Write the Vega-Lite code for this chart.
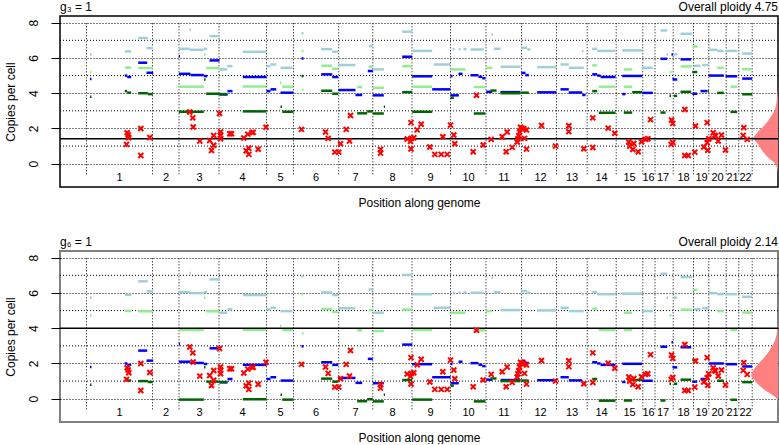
{
  "$schema": "https://vega.github.io/schema/vega-lite/v6.json",
  "background": "white",
  "padding": {"left": 3, "right": 0, "top": 0, "bottom": 0},
  "config": {"font": "Liberation Sans", "view": {"stroke": "black"}},
  "spacing": 26,
  "datasets": {
    "edges": [
      {"pos": 26}, {"pos": 92}, {"pos": 118.5}, {"pos": 158.5}, {"pos": 206}, {"pos": 233}, {"pos": 278.2}, {"pos": 312.3},
      {"pos": 351.5}, {"pos": 390}, {"pos": 425.5}, {"pos": 461}, {"pos": 496}, {"pos": 526.7}, {"pos": 555.7}, {"pos": 582.3},
      {"pos": 594.5}, {"pos": 612.7}, {"pos": 633}, {"pos": 648.3}, {"pos": 665.7}, {"pos": 678.3}, {"pos": 691.7}
    ],
    "oddGrid": [{"g": 1}, {"g": 3}, {"g": 5}, {"g": 7}],
    "chrom": [
      {"chr": "1", "mid": 59}, {"chr": "2", "mid": 105.5}, {"chr": "3", "mid": 139}, {"chr": "4", "mid": 182},
      {"chr": "5", "mid": 220}, {"chr": "6", "mid": 255.5}, {"chr": "7", "mid": 295}, {"chr": "8", "mid": 332},
      {"chr": "9", "mid": 370}, {"chr": "10", "mid": 408}, {"chr": "11", "mid": 443.5}, {"chr": "12", "mid": 480},
      {"chr": "13", "mid": 511.5}, {"chr": "14", "mid": 541}, {"chr": "15", "mid": 569}, {"chr": "16", "mid": 588},
      {"chr": "17", "mid": 602.5}, {"chr": "18", "mid": 623}, {"chr": "19", "mid": 641}, {"chr": "20", "mid": 657},
      {"chr": "21", "mid": 672}, {"chr": "22", "mid": 685}
    ],
    "cross": [
      {"pos": 66.7, "cn": 1.76}, {"pos": 67.7, "cn": 1.63}, {"pos": 68.3, "cn": 1.47}, {"pos": 66, "cn": 1.1}, {"pos": 80.3, "cn": 2.0}, {"pos": 80.3, "cn": 0.47}, {"pos": 89.3, "cn": 1.49},
      {"pos": 129.3, "cn": 2.93}, {"pos": 132.3, "cn": 2.6}, {"pos": 132.7, "cn": 2.08}, {"pos": 139.3, "cn": 1.28}, {"pos": 149.2, "cn": 1.32}, {"pos": 153.2, "cn": 1.6}, {"pos": 153.2, "cn": 1.05}, {"pos": 151, "cn": 0.75},
      {"pos": 159, "cn": 2.85}, {"pos": 160, "cn": 1.8}, {"pos": 160, "cn": 1.63}, {"pos": 160, "cn": 1.42}, {"pos": 169.3, "cn": 1.7}, {"pos": 171, "cn": 1.7},
      {"pos": 183.3, "cn": 1.46}, {"pos": 187.3, "cn": 1.68}, {"pos": 191.7, "cn": 1.78}, {"pos": 192.7, "cn": 1.78}, {"pos": 188.3, "cn": 0.88}, {"pos": 185.7, "cn": 0.74}, {"pos": 188.3, "cn": 0.53}, {"pos": 197.7, "cn": 0.82}, {"pos": 205.5, "cn": 2.07},
      {"pos": 241, "cn": 1.95}, {"pos": 265, "cn": 1.8}, {"pos": 267.7, "cn": 1.44}, {"pos": 274.3, "cn": 0.66}, {"pos": 278.3, "cn": 0.66}, {"pos": 280, "cn": 1.13},
      {"pos": 285.7, "cn": 1.95}, {"pos": 290, "cn": 2.74}, {"pos": 289, "cn": 1.29}, {"pos": 320, "cn": 0.81}, {"pos": 320, "cn": 0.6},
      {"pos": 346.7, "cn": 1.4}, {"pos": 350.5, "cn": 2.33}, {"pos": 351, "cn": 1.44}, {"pos": 350, "cn": 1.27}, {"pos": 350.5, "cn": 0.84}, {"pos": 353.3, "cn": 1.47}, {"pos": 356.7, "cn": 1.92}, {"pos": 360.7, "cn": 2.24},
      {"pos": 369.3, "cn": 0.95}, {"pos": 374.3, "cn": 0.53}, {"pos": 380.7, "cn": 0.53}, {"pos": 386.7, "cn": 0.53}, {"pos": 382.3, "cn": 1.53},
      {"pos": 390, "cn": 2.19}, {"pos": 393.3, "cn": 1.63}, {"pos": 394.3, "cn": 1.13}, {"pos": 412.7, "cn": 0.68}, {"pos": 416, "cn": 3.88}, {"pos": 422.7, "cn": 1.06},
      {"pos": 430.7, "cn": 1.38}, {"pos": 441.7, "cn": 1.53}, {"pos": 446.7, "cn": 1.8}, {"pos": 445.7, "cn": 0.68}, {"pos": 451.7, "cn": 0.93}, {"pos": 456.7, "cn": 1.23}, {"pos": 458.3, "cn": 1.57}, {"pos": 459, "cn": 1.8},
      {"pos": 461.7, "cn": 2.0}, {"pos": 464, "cn": 1.44}, {"pos": 466, "cn": 1.91}, {"pos": 466, "cn": 0.83}, {"pos": 457.3, "cn": 1.41}, {"pos": 460, "cn": 2.07}, {"pos": 463.3, "cn": 1.98},
      {"pos": 481, "cn": 2.17}, {"pos": 495, "cn": 1.0}, {"pos": 508.3, "cn": 2.15}, {"pos": 508.3, "cn": 1.82}, {"pos": 523.3, "cn": 0.85},
      {"pos": 532.3, "cn": 2.6}, {"pos": 532.3, "cn": 0.92}, {"pos": 547.7, "cn": 2.02}, {"pos": 554.3, "cn": 1.73},
      {"pos": 568.3, "cn": 1.23}, {"pos": 569.3, "cn": 1.0}, {"pos": 572.3, "cn": 0.81}, {"pos": 573.3, "cn": 1.15}, {"pos": 577.7, "cn": 0.68}, {"pos": 581, "cn": 1.25},
      {"pos": 585, "cn": 1.38}, {"pos": 587.3, "cn": 1.42}, {"pos": 590, "cn": 2.5},
      {"pos": 611, "cn": 2.48}, {"pos": 612.3, "cn": 2.29}, {"pos": 610.7, "cn": 1.1}, {"pos": 612.3, "cn": 1.2},
      {"pos": 624.3, "cn": 3.08}, {"pos": 624.3, "cn": 0.47}, {"pos": 627.7, "cn": 0.47},
      {"pos": 634.3, "cn": 0.66}, {"pos": 635, "cn": 2.14}, {"pos": 646.7, "cn": 2.33}, {"pos": 643.3, "cn": 0.95}, {"pos": 646.7, "cn": 1.19}, {"pos": 647.3, "cn": 0.76}, {"pos": 648.3, "cn": 1.42},
      {"pos": 652.7, "cn": 1.76}, {"pos": 654, "cn": 1.61}, {"pos": 657.7, "cn": 1.29}, {"pos": 661, "cn": 1.63}, {"pos": 665, "cn": 0.78}, {"pos": 655, "cn": 1.57},
      {"pos": 683.3, "cn": 2.05}, {"pos": 682.7, "cn": 1.61}, {"pos": 686.7, "cn": 1.38}
    ],
    "densTop": [
      {"cn": 4.2, "edge": 717.5}, {"cn": 4.0, "edge": 717}, {"cn": 3.5, "edge": 716}, {"cn": 3.0, "edge": 714}, {"cn": 2.6, "edge": 709.5},
      {"cn": 2.24, "edge": 704.8}, {"cn": 1.86, "edge": 698.1}, {"cn": 1.6, "edge": 694.5}, {"cn": 1.48, "edge": 693.1}, {"cn": 1.29, "edge": 694.8},
      {"cn": 1.1, "edge": 697.5}, {"cn": 0.91, "edge": 699.8}, {"cn": 0.63, "edge": 703.1}, {"cn": 0.34, "edge": 707.8}, {"cn": 0.06, "edge": 713.8},
      {"cn": -0.23, "edge": 716.5}, {"cn": -0.5, "edge": 717.5}
    ],
    "densBot": [
      {"cn": 4.3, "edge": 717.5}, {"cn": 4.03, "edge": 717}, {"cn": 3.27, "edge": 714.2}, {"cn": 2.7, "edge": 708.5}, {"cn": 2.33, "edge": 703.5},
      {"cn": 1.95, "edge": 697.5}, {"cn": 1.57, "edge": 692.5}, {"cn": 1.38, "edge": 690.8}, {"cn": 1.1, "edge": 693.2}, {"cn": 0.82, "edge": 697.5},
      {"cn": 0.53, "edge": 703.5}, {"cn": 0.34, "edge": 708.5}, {"cn": 0.15, "edge": 713.5}, {"cn": -0.03, "edge": 716.5}, {"cn": -0.3, "edge": 717.5}
    ],
    "segTop": [
      {"x0": 29.5, "x1": 31, "cn": 3.8, "kind": "dg"}, {"x0": 29.5, "x1": 31, "cn": 5.2, "kind": "lg"}, {"x0": 29.5, "x1": 31, "cn": 4.8, "kind": "b"}, {"x0": 29.5, "x1": 31, "cn": 6.2, "kind": "lb"},
      {"x0": 64.3, "x1": 70.7, "cn": 6.37, "kind": "lb"}, {"x0": 77.7, "x1": 87.3, "cn": 7.13, "kind": "lb"}, {"x0": 86, "x1": 92.7, "cn": 6.56, "kind": "lb"},
      {"x0": 64.3, "x1": 70.7, "cn": 5.45, "kind": "lg"}, {"x0": 77.7, "x1": 92.3, "cn": 5.43, "kind": "lg"},
      {"x0": 64.3, "x1": 66.7, "cn": 5.0, "kind": "b"}, {"x0": 66.7, "x1": 70.7, "cn": 4.92, "kind": "b"}, {"x0": 77.7, "x1": 86.7, "cn": 5.73, "kind": "b"}, {"x0": 86, "x1": 92.7, "cn": 5.16, "kind": "b"},
      {"x0": 64.3, "x1": 66.7, "cn": 4.12, "kind": "dg"}, {"x0": 66.7, "x1": 70.7, "cn": 4.03, "kind": "dg"}, {"x0": 77.7, "x1": 87.3, "cn": 4.0, "kind": "dg"}, {"x0": 87.3, "x1": 92.3, "cn": 3.95, "kind": "dg"},
      {"x0": 118.3, "x1": 129.3, "cn": 6.52, "kind": "lb"}, {"x0": 129.3, "x1": 143.3, "cn": 6.46, "kind": "lb"}, {"x0": 143.3, "x1": 146.7, "cn": 6.52, "kind": "lb"}, {"x0": 149, "x1": 159, "cn": 7.24, "kind": "lb"}, {"x0": 129, "x1": 130.5, "cn": 7.6, "kind": "lb"},
      {"x0": 118.3, "x1": 143.3, "cn": 4.37, "kind": "lg"}, {"x0": 145.7, "x1": 159, "cn": 5.43, "kind": "lg"},
      {"x0": 118.3, "x1": 130, "cn": 5.1, "kind": "b"}, {"x0": 130, "x1": 143.3, "cn": 5.03, "kind": "b"}, {"x0": 143.3, "x1": 146.7, "cn": 4.97, "kind": "b"}, {"x0": 149, "x1": 159, "cn": 5.86, "kind": "b"}, {"x0": 118.3, "x1": 119.5, "cn": 6.1, "kind": "b"},
      {"x0": 118.3, "x1": 143.3, "cn": 2.95, "kind": "dg"}, {"x0": 145.7, "x1": 159, "cn": 3.97, "kind": "dg"}, {"x0": 143.5, "x1": 145, "cn": 4.78, "kind": "dg"}, {"x0": 143.5, "x1": 145, "cn": 6.2, "kind": "lg"},
      {"x0": 159, "x1": 167, "cn": 3.93, "kind": "b"}, {"x0": 167, "x1": 172, "cn": 4.12, "kind": "b"}, {"x0": 159, "x1": 167, "cn": 3.95, "kind": "dg"}, {"x0": 159, "x1": 166.7, "cn": 5.35, "kind": "lb"}, {"x0": 166.7, "x1": 172, "cn": 5.54, "kind": "lb"},
      {"x0": 182.3, "x1": 206, "cn": 6.35, "kind": "lb"}, {"x0": 182.3, "x1": 206, "cn": 4.38, "kind": "lg"}, {"x0": 182.3, "x1": 206, "cn": 4.92, "kind": "b"}, {"x0": 182.3, "x1": 206, "cn": 2.97, "kind": "dg"},
      {"x0": 206, "x1": 210, "cn": 5.54, "kind": "lb"}, {"x0": 210, "x1": 215.7, "cn": 5.63, "kind": "lb"}, {"x0": 206, "x1": 210, "cn": 4.12, "kind": "b"}, {"x0": 210, "x1": 215.7, "cn": 4.22, "kind": "b"},
      {"x0": 220, "x1": 232, "cn": 5.44, "kind": "lb"}, {"x0": 221.7, "x1": 233, "cn": 4.37, "kind": "lg"}, {"x0": 220, "x1": 233, "cn": 4.03, "kind": "b"}, {"x0": 221.7, "x1": 233, "cn": 2.95, "kind": "dg"},
      {"x0": 220, "x1": 221.5, "cn": 3.23, "kind": "dg"}, {"x0": 219.5, "x1": 221, "cn": 4.6, "kind": "lg"},
      {"x0": 241, "x1": 243, "cn": 7.4, "kind": "lb"}, {"x0": 241, "x1": 243, "cn": 6.4, "kind": "lg"}, {"x0": 241, "x1": 243, "cn": 5.97, "kind": "b"}, {"x0": 241, "x1": 243, "cn": 4.97, "kind": "dg"}, {"x0": 241.5, "x1": 243, "cn": 4.18, "kind": "lg"},
      {"x0": 260.7, "x1": 271.7, "cn": 6.5, "kind": "lb"}, {"x0": 271.7, "x1": 277.7, "cn": 6.35, "kind": "lb"}, {"x0": 260.7, "x1": 271.7, "cn": 5.56, "kind": "lg"}, {"x0": 271.7, "x1": 277.7, "cn": 5.39, "kind": "lg"},
      {"x0": 260.7, "x1": 271.7, "cn": 5.07, "kind": "b"}, {"x0": 271.7, "x1": 277.7, "cn": 4.92, "kind": "b"}, {"x0": 260.7, "x1": 271.7, "cn": 4.14, "kind": "dg"}, {"x0": 271.7, "x1": 277.7, "cn": 3.97, "kind": "dg"},
      {"x0": 277.7, "x1": 295, "cn": 5.6, "kind": "lb"}, {"x0": 277.7, "x1": 295, "cn": 4.18, "kind": "b"}, {"x0": 296.7, "x1": 301.7, "cn": 4.35, "kind": "lg"}, {"x0": 295, "x1": 301.7, "cn": 3.9, "kind": "b"},
      {"x0": 296.7, "x1": 306.7, "cn": 2.86, "kind": "dg"}, {"x0": 306.7, "x1": 312.3, "cn": 2.97, "kind": "dg"}, {"x0": 308.3, "x1": 312.3, "cn": 6.67, "kind": "lb"}, {"x0": 308.3, "x1": 312.3, "cn": 5.5, "kind": "lg"}, {"x0": 307.3, "x1": 312.3, "cn": 5.26, "kind": "b"},
      {"x0": 312.3, "x1": 323.3, "cn": 5.35, "kind": "lb"}, {"x0": 312.3, "x1": 323.3, "cn": 4.31, "kind": "lg"}, {"x0": 312.3, "x1": 323.3, "cn": 3.88, "kind": "b"}, {"x0": 312.3, "x1": 323.3, "cn": 2.85, "kind": "dg"}, {"x0": 323.3, "x1": 324.5, "cn": 3.23, "kind": "dg"},
      {"x0": 341.7, "x1": 351.7, "cn": 7.49, "kind": "lb"}, {"x0": 341.7, "x1": 351.7, "cn": 6.07, "kind": "b"}, {"x0": 341.7, "x1": 351.7, "cn": 5.53, "kind": "lg"}, {"x0": 341.7, "x1": 351.7, "cn": 4.06, "kind": "dg"},
      {"x0": 351.7, "x1": 371.7, "cn": 6.4, "kind": "lb"}, {"x0": 351.7, "x1": 371.7, "cn": 4.37, "kind": "lg"}, {"x0": 351.7, "x1": 371.7, "cn": 4.96, "kind": "b"}, {"x0": 351.7, "x1": 371.7, "cn": 2.95, "kind": "dg"},
      {"x0": 373.3, "x1": 390, "cn": 5.63, "kind": "lb"}, {"x0": 371.7, "x1": 390, "cn": 4.22, "kind": "b"},
      {"x0": 390, "x1": 398.3, "cn": 3.88, "kind": "b"}, {"x0": 390, "x1": 393.3, "cn": 3.74, "kind": "dg"}, {"x0": 390, "x1": 405, "cn": 5.35, "kind": "lg"},
      {"x0": 392, "x1": 394, "cn": 6.5, "kind": "lb"}, {"x0": 398, "x1": 400, "cn": 6.5, "kind": "lb"}, {"x0": 403, "x1": 406, "cn": 6.5, "kind": "lb"}, {"x0": 390, "x1": 392, "cn": 4.97, "kind": "b"}, {"x0": 398, "x1": 402, "cn": 5.1, "kind": "b"},
      {"x0": 410, "x1": 418, "cn": 5.02, "kind": "b"}, {"x0": 418, "x1": 421.7, "cn": 4.93, "kind": "b"}, {"x0": 410, "x1": 423.3, "cn": 6.48, "kind": "lb"}, {"x0": 413.3, "x1": 425, "cn": 4.35, "kind": "lg"}, {"x0": 413.3, "x1": 425, "cn": 2.85, "kind": "dg"}, {"x0": 421.7, "x1": 425, "cn": 4.85, "kind": "b"},
      {"x0": 425.7, "x1": 431.7, "cn": 5.44, "kind": "lg"}, {"x0": 425.7, "x1": 431.7, "cn": 4.08, "kind": "b"}, {"x0": 430, "x1": 436, "cn": 4.15, "kind": "dg"}, {"x0": 433.3, "x1": 440, "cn": 6.52, "kind": "lb"},
      {"x0": 440, "x1": 460, "cn": 5.5, "kind": "lb"}, {"x0": 440, "x1": 460, "cn": 4.06, "kind": "b"}, {"x0": 440, "x1": 460, "cn": 4.0, "kind": "dg"}, {"x0": 431, "x1": 432.5, "cn": 7.33, "kind": "lb"},
      {"x0": 460.7, "x1": 466.7, "cn": 6.58, "kind": "lb"}, {"x0": 466.7, "x1": 470, "cn": 6.48, "kind": "lb"}, {"x0": 460.7, "x1": 465, "cn": 5.15, "kind": "b"}, {"x0": 465, "x1": 468.3, "cn": 5.03, "kind": "b"}, {"x0": 460.7, "x1": 468.3, "cn": 4.03, "kind": "dg"},
      {"x0": 476.7, "x1": 495.7, "cn": 5.48, "kind": "lb"}, {"x0": 476.7, "x1": 495.7, "cn": 4.05, "kind": "b"},
      {"x0": 500, "x1": 508.3, "cn": 5.63, "kind": "lb"}, {"x0": 508.3, "x1": 523.3, "cn": 5.44, "kind": "lb"}, {"x0": 500, "x1": 508.3, "cn": 4.22, "kind": "b"}, {"x0": 508.3, "x1": 521.7, "cn": 4.04, "kind": "b"}, {"x0": 521.7, "x1": 525, "cn": 3.9, "kind": "b"}, {"x0": 521.5, "x1": 523, "cn": 6.4, "kind": "lb"},
      {"x0": 531.7, "x1": 536.7, "cn": 6.52, "kind": "lb"}, {"x0": 536.7, "x1": 555, "cn": 6.4, "kind": "lb"}, {"x0": 531.7, "x1": 536.7, "cn": 5.58, "kind": "lg"}, {"x0": 531.7, "x1": 536.7, "cn": 5.07, "kind": "b"},
      {"x0": 536.7, "x1": 540, "cn": 5.0, "kind": "b"}, {"x0": 540, "x1": 555, "cn": 4.92, "kind": "b"}, {"x0": 531.7, "x1": 536.7, "cn": 4.12, "kind": "dg"}, {"x0": 538.3, "x1": 555, "cn": 4.37, "kind": "lg"}, {"x0": 538.3, "x1": 555, "cn": 2.89, "kind": "dg"},
      {"x0": 561.7, "x1": 581.7, "cn": 6.43, "kind": "lb"}, {"x0": 561.7, "x1": 581.7, "cn": 4.98, "kind": "b"}, {"x0": 563.3, "x1": 571.7, "cn": 5.35, "kind": "lg"}, {"x0": 563.3, "x1": 571.7, "cn": 4.37, "kind": "lg"},
      {"x0": 563.3, "x1": 571.7, "cn": 2.9, "kind": "dg"}, {"x0": 571.7, "x1": 581.7, "cn": 4.06, "kind": "dg"}, {"x0": 561.7, "x1": 565, "cn": 3.95, "kind": "b"},
      {"x0": 581.7, "x1": 592.3, "cn": 5.44, "kind": "lb"}, {"x0": 581.7, "x1": 592.3, "cn": 4.02, "kind": "b"},
      {"x0": 600, "x1": 606.7, "cn": 7.56, "kind": "lb"}, {"x0": 600, "x1": 606.7, "cn": 5.95, "kind": "b"}, {"x0": 600, "x1": 605, "cn": 2.9, "kind": "dg"}, {"x0": 606, "x1": 607.5, "cn": 6.2, "kind": "lb"},
      {"x0": 611, "x1": 612.5, "cn": 6.2, "kind": "b"}, {"x0": 612, "x1": 613.5, "cn": 4.8, "kind": "b"}, {"x0": 609, "x1": 611, "cn": 5.2, "kind": "lg"}, {"x0": 609, "x1": 610.5, "cn": 3.85, "kind": "dg"},
      {"x0": 613, "x1": 616.7, "cn": 6.2, "kind": "lb"}, {"x0": 612.7, "x1": 616.7, "cn": 4.78, "kind": "b"}, {"x0": 613.3, "x1": 616.7, "cn": 3.85, "kind": "dg"},
      {"x0": 620, "x1": 631.7, "cn": 7.37, "kind": "lb"}, {"x0": 620, "x1": 630.7, "cn": 5.92, "kind": "b"}, {"x0": 620, "x1": 631.7, "cn": 5.52, "kind": "lg"}, {"x0": 620, "x1": 630.7, "cn": 4.08, "kind": "dg"},
      {"x0": 631.7, "x1": 636.7, "cn": 3.97, "kind": "b"}, {"x0": 640, "x1": 646.7, "cn": 4.12, "kind": "b"}, {"x0": 633.3, "x1": 640, "cn": 5.55, "kind": "lb"}, {"x0": 641.7, "x1": 648.3, "cn": 5.6, "kind": "lb"},
      {"x0": 632, "x1": 637, "cn": 6.65, "kind": "lg"}, {"x0": 631.7, "x1": 636.7, "cn": 5.2, "kind": "dg"},
      {"x0": 648.3, "x1": 656.7, "cn": 6.46, "kind": "lb"}, {"x0": 656.7, "x1": 663.3, "cn": 6.4, "kind": "lb"}, {"x0": 656.7, "x1": 663.3, "cn": 5.44, "kind": "lg"}, {"x0": 648.3, "x1": 663.3, "cn": 5.0, "kind": "b"},
      {"x0": 656.7, "x1": 663.3, "cn": 4.02, "kind": "dg"}, {"x0": 647, "x1": 648.5, "cn": 4.12, "kind": "dg"},
      {"x0": 665, "x1": 676.7, "cn": 6.4, "kind": "lb"}, {"x0": 670, "x1": 676.7, "cn": 4.37, "kind": "lg"}, {"x0": 665, "x1": 676.7, "cn": 4.96, "kind": "b"}, {"x0": 670, "x1": 676.7, "cn": 2.94, "kind": "dg"},
      {"x0": 681.7, "x1": 691.7, "cn": 6.25, "kind": "lb"}, {"x0": 681.7, "x1": 691.7, "cn": 5.36, "kind": "lg"}, {"x0": 681.7, "x1": 691.7, "cn": 4.83, "kind": "b"}, {"x0": 681.7, "x1": 691.7, "cn": 3.94, "kind": "dg"}
    ],
    "segBot": [
      {"x0": 29.5, "x1": 31, "cn": 0.8, "kind": "dg"}, {"x0": 29.5, "x1": 31, "cn": 4.73, "kind": "lg"}, {"x0": 29.5, "x1": 31, "cn": 1.8, "kind": "b"}, {"x0": 29.5, "x1": 31, "cn": 5.73, "kind": "lb"},
      {"x0": 64.3, "x1": 70.7, "cn": 5.9, "kind": "lb"}, {"x0": 77.7, "x1": 87.3, "cn": 6.66, "kind": "lb"}, {"x0": 86, "x1": 92.7, "cn": 6.09, "kind": "lb"},
      {"x0": 64.3, "x1": 70.7, "cn": 4.98, "kind": "lg"}, {"x0": 77.7, "x1": 92.3, "cn": 4.96, "kind": "lg"},
      {"x0": 64.3, "x1": 66.7, "cn": 2.0, "kind": "b"}, {"x0": 66.7, "x1": 70.7, "cn": 1.92, "kind": "b"}, {"x0": 77.7, "x1": 86.7, "cn": 2.73, "kind": "b"}, {"x0": 86, "x1": 92.7, "cn": 2.16, "kind": "b"},
      {"x0": 64.3, "x1": 66.7, "cn": 1.12, "kind": "dg"}, {"x0": 66.7, "x1": 70.7, "cn": 1.03, "kind": "dg"}, {"x0": 77.7, "x1": 87.3, "cn": 1.0, "kind": "dg"}, {"x0": 87.3, "x1": 92.3, "cn": 0.95, "kind": "dg"},
      {"x0": 118.3, "x1": 129.3, "cn": 6.05, "kind": "lb"}, {"x0": 129.3, "x1": 143.3, "cn": 5.99, "kind": "lb"}, {"x0": 143.3, "x1": 146.7, "cn": 6.05, "kind": "lb"}, {"x0": 149, "x1": 159, "cn": 6.77, "kind": "lb"}, {"x0": 129, "x1": 130.5, "cn": 7.13, "kind": "lb"},
      {"x0": 118.3, "x1": 143.3, "cn": 3.9, "kind": "lg"}, {"x0": 145.7, "x1": 159, "cn": 4.96, "kind": "lg"},
      {"x0": 118.3, "x1": 130, "cn": 2.1, "kind": "b"}, {"x0": 130, "x1": 143.3, "cn": 2.03, "kind": "b"}, {"x0": 143.3, "x1": 146.7, "cn": 1.97, "kind": "b"}, {"x0": 149, "x1": 159, "cn": 2.86, "kind": "b"}, {"x0": 118.3, "x1": 119.5, "cn": 3.1, "kind": "b"},
      {"x0": 118.3, "x1": 143.3, "cn": -0.05, "kind": "dg"}, {"x0": 145.7, "x1": 159, "cn": 0.97, "kind": "dg"}, {"x0": 143.5, "x1": 145, "cn": 1.78, "kind": "dg"}, {"x0": 143.5, "x1": 145, "cn": 5.73, "kind": "lg"},
      {"x0": 159, "x1": 167, "cn": 0.93, "kind": "b"}, {"x0": 167, "x1": 172, "cn": 1.12, "kind": "b"}, {"x0": 159, "x1": 167, "cn": 0.95, "kind": "dg"}, {"x0": 159, "x1": 166.7, "cn": 4.88, "kind": "lb"}, {"x0": 166.7, "x1": 172, "cn": 5.07, "kind": "lb"},
      {"x0": 182.3, "x1": 206, "cn": 5.88, "kind": "lb"}, {"x0": 182.3, "x1": 206, "cn": 3.91, "kind": "lg"}, {"x0": 182.3, "x1": 206, "cn": 1.92, "kind": "b"}, {"x0": 182.3, "x1": 206, "cn": -0.03, "kind": "dg"},
      {"x0": 206, "x1": 210, "cn": 5.07, "kind": "lb"}, {"x0": 210, "x1": 215.7, "cn": 5.16, "kind": "lb"}, {"x0": 206, "x1": 210, "cn": 1.12, "kind": "b"}, {"x0": 210, "x1": 215.7, "cn": 1.22, "kind": "b"},
      {"x0": 220, "x1": 232, "cn": 4.97, "kind": "lb"}, {"x0": 221.7, "x1": 233, "cn": 3.9, "kind": "lg"}, {"x0": 220, "x1": 233, "cn": 1.03, "kind": "b"}, {"x0": 221.7, "x1": 233, "cn": -0.05, "kind": "dg"},
      {"x0": 220, "x1": 221.5, "cn": 0.23, "kind": "dg"}, {"x0": 219.5, "x1": 221, "cn": 4.13, "kind": "lg"},
      {"x0": 241, "x1": 243, "cn": 6.93, "kind": "lb"}, {"x0": 241, "x1": 243, "cn": 5.93, "kind": "lg"}, {"x0": 241, "x1": 243, "cn": 2.97, "kind": "b"}, {"x0": 241, "x1": 243, "cn": 1.97, "kind": "dg"}, {"x0": 241.5, "x1": 243, "cn": 3.71, "kind": "lg"},
      {"x0": 260.7, "x1": 271.7, "cn": 6.03, "kind": "lb"}, {"x0": 271.7, "x1": 277.7, "cn": 5.88, "kind": "lb"}, {"x0": 260.7, "x1": 271.7, "cn": 5.09, "kind": "lg"}, {"x0": 271.7, "x1": 277.7, "cn": 4.92, "kind": "lg"},
      {"x0": 260.7, "x1": 271.7, "cn": 2.07, "kind": "b"}, {"x0": 271.7, "x1": 277.7, "cn": 1.92, "kind": "b"}, {"x0": 260.7, "x1": 271.7, "cn": 1.14, "kind": "dg"}, {"x0": 271.7, "x1": 277.7, "cn": 0.97, "kind": "dg"},
      {"x0": 277.7, "x1": 295, "cn": 5.13, "kind": "lb"}, {"x0": 277.7, "x1": 295, "cn": 1.18, "kind": "b"}, {"x0": 296.7, "x1": 301.7, "cn": 3.88, "kind": "lg"}, {"x0": 295, "x1": 301.7, "cn": 0.9, "kind": "b"},
      {"x0": 296.7, "x1": 306.7, "cn": -0.14, "kind": "dg"}, {"x0": 306.7, "x1": 312.3, "cn": -0.03, "kind": "dg"}, {"x0": 308.3, "x1": 312.3, "cn": 6.2, "kind": "lb"}, {"x0": 308.3, "x1": 312.3, "cn": 5.03, "kind": "lg"}, {"x0": 307.3, "x1": 312.3, "cn": 2.26, "kind": "b"},
      {"x0": 312.3, "x1": 323.3, "cn": 4.88, "kind": "lb"}, {"x0": 312.3, "x1": 323.3, "cn": 3.84, "kind": "lg"}, {"x0": 312.3, "x1": 323.3, "cn": 0.88, "kind": "b"}, {"x0": 312.3, "x1": 323.3, "cn": -0.15, "kind": "dg"}, {"x0": 323.3, "x1": 324.5, "cn": 0.23, "kind": "dg"},
      {"x0": 341.7, "x1": 351.7, "cn": 7.02, "kind": "lb"}, {"x0": 341.7, "x1": 351.7, "cn": 3.07, "kind": "b"}, {"x0": 341.7, "x1": 351.7, "cn": 5.06, "kind": "lg"}, {"x0": 341.7, "x1": 351.7, "cn": 1.06, "kind": "dg"},
      {"x0": 351.7, "x1": 371.7, "cn": 5.93, "kind": "lb"}, {"x0": 351.7, "x1": 371.7, "cn": 3.9, "kind": "lg"}, {"x0": 351.7, "x1": 371.7, "cn": 1.96, "kind": "b"}, {"x0": 351.7, "x1": 371.7, "cn": -0.05, "kind": "dg"},
      {"x0": 373.3, "x1": 390, "cn": 5.16, "kind": "lb"}, {"x0": 371.7, "x1": 390, "cn": 1.22, "kind": "b"},
      {"x0": 390, "x1": 398.3, "cn": 0.88, "kind": "b"}, {"x0": 390, "x1": 393.3, "cn": 0.74, "kind": "dg"}, {"x0": 390, "x1": 405, "cn": 4.88, "kind": "lg"},
      {"x0": 392, "x1": 394, "cn": 6.03, "kind": "lb"}, {"x0": 398, "x1": 400, "cn": 6.03, "kind": "lb"}, {"x0": 403, "x1": 406, "cn": 6.03, "kind": "lb"}, {"x0": 390, "x1": 392, "cn": 1.97, "kind": "b"}, {"x0": 398, "x1": 402, "cn": 2.1, "kind": "b"},
      {"x0": 410, "x1": 418, "cn": 2.02, "kind": "b"}, {"x0": 418, "x1": 421.7, "cn": 1.93, "kind": "b"}, {"x0": 410, "x1": 423.3, "cn": 6.01, "kind": "lb"}, {"x0": 413.3, "x1": 425, "cn": 3.88, "kind": "lg"}, {"x0": 413.3, "x1": 425, "cn": -0.15, "kind": "dg"}, {"x0": 421.7, "x1": 425, "cn": 1.85, "kind": "b"},
      {"x0": 425.7, "x1": 431.7, "cn": 4.97, "kind": "lg"}, {"x0": 425.7, "x1": 431.7, "cn": 1.08, "kind": "b"}, {"x0": 430, "x1": 436, "cn": 1.15, "kind": "dg"}, {"x0": 433.3, "x1": 440, "cn": 6.05, "kind": "lb"},
      {"x0": 440, "x1": 460, "cn": 5.03, "kind": "lb"}, {"x0": 440, "x1": 460, "cn": 1.06, "kind": "b"}, {"x0": 440, "x1": 460, "cn": 1.0, "kind": "dg"}, {"x0": 431, "x1": 432.5, "cn": 6.86, "kind": "lb"},
      {"x0": 460.7, "x1": 466.7, "cn": 6.11, "kind": "lb"}, {"x0": 466.7, "x1": 470, "cn": 6.01, "kind": "lb"}, {"x0": 460.7, "x1": 465, "cn": 2.15, "kind": "b"}, {"x0": 465, "x1": 468.3, "cn": 2.03, "kind": "b"}, {"x0": 460.7, "x1": 468.3, "cn": 1.03, "kind": "dg"},
      {"x0": 476.7, "x1": 495.7, "cn": 5.01, "kind": "lb"}, {"x0": 476.7, "x1": 495.7, "cn": 1.05, "kind": "b"},
      {"x0": 500, "x1": 508.3, "cn": 5.16, "kind": "lb"}, {"x0": 508.3, "x1": 523.3, "cn": 4.97, "kind": "lb"}, {"x0": 500, "x1": 508.3, "cn": 1.22, "kind": "b"}, {"x0": 508.3, "x1": 521.7, "cn": 1.04, "kind": "b"}, {"x0": 521.7, "x1": 525, "cn": 0.9, "kind": "b"}, {"x0": 521.5, "x1": 523, "cn": 5.93, "kind": "lb"},
      {"x0": 531.7, "x1": 536.7, "cn": 6.05, "kind": "lb"}, {"x0": 536.7, "x1": 555, "cn": 5.93, "kind": "lb"}, {"x0": 531.7, "x1": 536.7, "cn": 5.11, "kind": "lg"}, {"x0": 531.7, "x1": 536.7, "cn": 2.07, "kind": "b"},
      {"x0": 536.7, "x1": 540, "cn": 2.0, "kind": "b"}, {"x0": 540, "x1": 555, "cn": 1.92, "kind": "b"}, {"x0": 531.7, "x1": 536.7, "cn": 1.12, "kind": "dg"}, {"x0": 538.3, "x1": 555, "cn": 3.9, "kind": "lg"}, {"x0": 538.3, "x1": 555, "cn": -0.11, "kind": "dg"},
      {"x0": 561.7, "x1": 581.7, "cn": 5.96, "kind": "lb"}, {"x0": 561.7, "x1": 581.7, "cn": 1.98, "kind": "b"}, {"x0": 563.3, "x1": 571.7, "cn": 4.88, "kind": "lg"}, {"x0": 563.3, "x1": 571.7, "cn": 3.9, "kind": "lg"},
      {"x0": 563.3, "x1": 571.7, "cn": -0.1, "kind": "dg"}, {"x0": 571.7, "x1": 581.7, "cn": 1.06, "kind": "dg"}, {"x0": 561.7, "x1": 565, "cn": 0.95, "kind": "b"},
      {"x0": 581.7, "x1": 592.3, "cn": 4.97, "kind": "lb"}, {"x0": 581.7, "x1": 592.3, "cn": 1.02, "kind": "b"},
      {"x0": 600, "x1": 606.7, "cn": 7.09, "kind": "lb"}, {"x0": 600, "x1": 606.7, "cn": 2.95, "kind": "b"}, {"x0": 600, "x1": 605, "cn": -0.1, "kind": "dg"}, {"x0": 606, "x1": 607.5, "cn": 5.73, "kind": "lb"},
      {"x0": 611, "x1": 612.5, "cn": 3.2, "kind": "b"}, {"x0": 612, "x1": 613.5, "cn": 1.8, "kind": "b"}, {"x0": 609, "x1": 611, "cn": 4.73, "kind": "lg"}, {"x0": 609, "x1": 610.5, "cn": 0.85, "kind": "dg"},
      {"x0": 613, "x1": 616.7, "cn": 5.73, "kind": "lb"}, {"x0": 612.7, "x1": 616.7, "cn": 1.78, "kind": "b"}, {"x0": 613.3, "x1": 616.7, "cn": 0.85, "kind": "dg"},
      {"x0": 620, "x1": 631.7, "cn": 6.9, "kind": "lb"}, {"x0": 620, "x1": 630.7, "cn": 2.92, "kind": "b"}, {"x0": 620, "x1": 631.7, "cn": 5.05, "kind": "lg"}, {"x0": 620, "x1": 630.7, "cn": 1.08, "kind": "dg"},
      {"x0": 631.7, "x1": 636.7, "cn": 0.97, "kind": "b"}, {"x0": 640, "x1": 646.7, "cn": 1.12, "kind": "b"}, {"x0": 633.3, "x1": 640, "cn": 5.08, "kind": "lb"}, {"x0": 641.7, "x1": 648.3, "cn": 5.13, "kind": "lb"},
      {"x0": 632, "x1": 637, "cn": 6.18, "kind": "lg"}, {"x0": 631.7, "x1": 636.7, "cn": 2.2, "kind": "dg"},
      {"x0": 648.3, "x1": 656.7, "cn": 5.99, "kind": "lb"}, {"x0": 656.7, "x1": 663.3, "cn": 5.93, "kind": "lb"}, {"x0": 656.7, "x1": 663.3, "cn": 4.97, "kind": "lg"}, {"x0": 648.3, "x1": 663.3, "cn": 2.0, "kind": "b"},
      {"x0": 656.7, "x1": 663.3, "cn": 1.02, "kind": "dg"}, {"x0": 647, "x1": 648.5, "cn": 1.12, "kind": "dg"},
      {"x0": 665, "x1": 676.7, "cn": 5.93, "kind": "lb"}, {"x0": 670, "x1": 676.7, "cn": 3.9, "kind": "lg"}, {"x0": 665, "x1": 676.7, "cn": 1.96, "kind": "b"}, {"x0": 670, "x1": 676.7, "cn": -0.06, "kind": "dg"},
      {"x0": 681.7, "x1": 691.7, "cn": 5.78, "kind": "lb"}, {"x0": 681.7, "x1": 691.7, "cn": 4.89, "kind": "lg"}, {"x0": 681.7, "x1": 691.7, "cn": 1.83, "kind": "b"}, {"x0": 681.7, "x1": 691.7, "cn": 0.94, "kind": "dg"}
    ]
  },
  "vconcat": [
    {
      "width": 718,
      "height": 171,
      "view": {"stroke": "black", "strokeWidth": 1.5},
      "layer": [
        {
          "data": {"name": "edges"},
          "mark": {"type": "rule", "color": "black", "strokeWidth": 1, "strokeDash": [1, 2]},
          "encoding": {
            "x": {"field": "pos", "type": "quantitative", "scale": {"domain": [-0.5, 717.5], "nice": false, "zero": false},
              "axis": {"orient": "bottom", "title": "Position along genome", "labels": false, "ticks": false, "domain": false, "grid": false,
                "titleFontSize": 12, "titleFontWeight": "normal", "titleColor": "black", "titleBaseline": "alphabetic", "titlePadding": 19}},
            "y": {"datum": -0.6, "type": "quantitative", "scale": {"domain": [-1.32, 8.38], "nice": false, "zero": false},
              "axis": {"values": [0, 2, 4, 6, 8], "grid": true, "gridColor": "black", "gridDash": [1, 2], "gridWidth": 1, "gridOpacity": 1,
                "domain": false, "tickSize": 9, "tickColor": "black", "tickWidth": 1,
                "labelAngle": -90, "labelPadding": 10.5, "labelFontSize": 12, "labelColor": "black",
                "title": "Copies per cell", "titleFontSize": 12, "titleFontWeight": "normal", "titleColor": "black", "titlePadding": 10}},
            "y2": {"datum": 8}
          }
        },
        {
          "data": {"name": "oddGrid"},
          "mark": {"type": "rule", "color": "black", "strokeWidth": 1, "strokeDash": [1, 2]},
          "encoding": {"y": {"field": "g", "type": "quantitative"}}
        },
        {
          "data": {"name": "segTop"},
          "mark": {"type": "rule", "strokeWidth": 2.5, "strokeCap": "butt"},
          "encoding": {
            "x": {"field": "x0", "type": "quantitative"},
            "x2": {"field": "x1"},
            "y": {"field": "cn", "type": "quantitative"},
            "color": {"field": "kind", "type": "nominal", "scale": {"domain": ["dg", "lg", "b", "lb"], "range": ["#006400", "#90ee90", "#0000ff", "#9fd0d8"]}, "legend": null}
          }
        },
        {
          "data": {"name": "densTop"},
          "mark": {"type": "area", "orient": "horizontal", "color": "#ff8080", "interpolate": "monotone"},
          "encoding": {
            "y": {"field": "cn", "type": "quantitative"},
            "x": {"field": "edge", "type": "quantitative"},
            "x2": {"datum": 717.5}
          }
        },
        {
          "data": {"values": [{}]},
          "mark": {"type": "rule", "color": "black", "strokeWidth": 1.5},
          "encoding": {"y": {"datum": 1.42, "type": "quantitative"}}
        },
        {
          "data": {"name": "cross"},
          "mark": {"type": "point", "shape": "M-1,-1L1,1M-1,1L1,-1", "filled": false, "stroke": "#ff0000", "strokeWidth": 2, "size": 25, "opacity": 1},
          "encoding": {
            "x": {"field": "pos", "type": "quantitative"},
            "y": {"field": "cn", "type": "quantitative"}
          }
        },
        {
          "data": {"name": "chrom"},
          "mark": {"type": "text", "fontSize": 11, "color": "black", "baseline": "middle", "align": "center"},
          "encoding": {
            "x": {"field": "mid", "type": "quantitative"},
            "y": {"datum": -0.8, "type": "quantitative"},
            "text": {"field": "chr"}
          }
        },
        {
          "data": {"values": [{}]},
          "mark": {"type": "text", "text": "g₃ = 1", "fontSize": 12, "color": "black", "align": "left", "baseline": "alphabetic"},
          "encoding": {
            "x": {"datum": -0.5, "type": "quantitative"},
            "y": {"datum": 8.66, "type": "quantitative"}
          }
        },
        {
          "data": {"values": [{}]},
          "mark": {"type": "text", "text": "Overall ploidy 4.75", "fontSize": 12, "color": "black", "align": "right", "baseline": "alphabetic"},
          "encoding": {
            "x": {"datum": 717.5, "type": "quantitative"},
            "y": {"datum": 8.66, "type": "quantitative"}
          }
        }
      ]
    },
    {
      "width": 718,
      "height": 171,
      "view": {"stroke": "#808080", "strokeWidth": 2},
      "layer": [
        {
          "data": {"name": "edges"},
          "mark": {"type": "rule", "color": "black", "strokeWidth": 1, "strokeDash": [1, 2]},
          "encoding": {
            "x": {"field": "pos", "type": "quantitative", "scale": {"domain": [-0.5, 717.5], "nice": false, "zero": false},
              "axis": {"orient": "bottom", "title": "Position along genome", "labels": false, "ticks": false, "domain": false, "grid": false,
                "titleFontSize": 12, "titleFontWeight": "normal", "titleColor": "black", "titleBaseline": "alphabetic", "titlePadding": 19}},
            "y": {"datum": -0.6, "type": "quantitative", "scale": {"domain": [-1.32, 8.38], "nice": false, "zero": false},
              "axis": {"values": [0, 2, 4, 6, 8], "grid": true, "gridColor": "black", "gridDash": [1, 2], "gridWidth": 1, "gridOpacity": 1,
                "domain": false, "tickSize": 9, "tickColor": "black", "tickWidth": 1,
                "labelAngle": -90, "labelPadding": 10.5, "labelFontSize": 12, "labelColor": "black",
                "title": "Copies per cell", "titleFontSize": 12, "titleFontWeight": "normal", "titleColor": "black", "titlePadding": 10}},
            "y2": {"datum": 8}
          }
        },
        {
          "data": {"name": "oddGrid"},
          "mark": {"type": "rule", "color": "black", "strokeWidth": 1, "strokeDash": [1, 2]},
          "encoding": {"y": {"field": "g", "type": "quantitative"}}
        },
        {
          "data": {"name": "segBot"},
          "mark": {"type": "rule", "strokeWidth": 2.5, "strokeCap": "butt"},
          "encoding": {
            "x": {"field": "x0", "type": "quantitative"},
            "x2": {"field": "x1"},
            "y": {"field": "cn", "type": "quantitative"},
            "color": {"field": "kind", "type": "nominal", "scale": {"domain": ["dg", "lg", "b", "lb"], "range": ["#006400", "#90ee90", "#0000ff", "#9fd0d8"]}, "legend": null}
          }
        },
        {
          "data": {"name": "densBot"},
          "mark": {"type": "area", "orient": "horizontal", "color": "#ff8080", "interpolate": "monotone"},
          "encoding": {
            "y": {"field": "cn", "type": "quantitative"},
            "x": {"field": "edge", "type": "quantitative"},
            "x2": {"datum": 717.5}
          }
        },
        {
          "data": {"values": [{}]},
          "mark": {"type": "rule", "color": "black", "strokeWidth": 1.5},
          "encoding": {"y": {"datum": 4.0, "type": "quantitative"}}
        },
        {
          "data": {"name": "cross"},
          "mark": {"type": "point", "shape": "M-1,-1L1,1M-1,1L1,-1", "filled": false, "stroke": "#ff0000", "strokeWidth": 2, "size": 25, "opacity": 1},
          "encoding": {
            "x": {"field": "pos", "type": "quantitative"},
            "y": {"field": "cn", "type": "quantitative"}
          }
        },
        {
          "data": {"name": "chrom"},
          "mark": {"type": "text", "fontSize": 11, "color": "black", "baseline": "middle", "align": "center"},
          "encoding": {
            "x": {"field": "mid", "type": "quantitative"},
            "y": {"datum": -0.8, "type": "quantitative"},
            "text": {"field": "chr"}
          }
        },
        {
          "data": {"values": [{}]},
          "mark": {"type": "text", "text": "g₆ = 1", "fontSize": 12, "color": "black", "align": "left", "baseline": "alphabetic"},
          "encoding": {
            "x": {"datum": -0.5, "type": "quantitative"},
            "y": {"datum": 8.66, "type": "quantitative"}
          }
        },
        {
          "data": {"values": [{}]},
          "mark": {"type": "text", "text": "Overall ploidy 2.14", "fontSize": 12, "color": "black", "align": "right", "baseline": "alphabetic"},
          "encoding": {
            "x": {"datum": 717.5, "type": "quantitative"},
            "y": {"datum": 8.66, "type": "quantitative"}
          }
        }
      ]
    }
  ]
}
